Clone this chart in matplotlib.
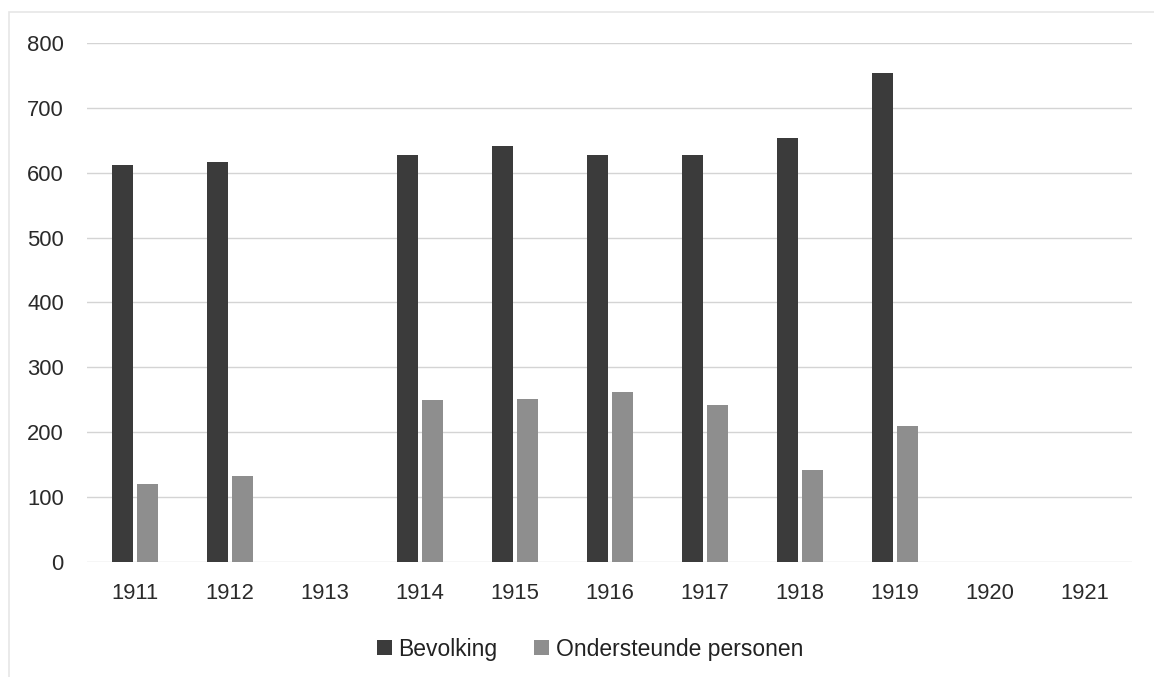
import numpy as np
import matplotlib.pyplot as plt
from matplotlib.patches import Rectangle

plt.rcParams['font.family'] = ['Liberation Sans', 'DejaVu Sans']

years = ["1911", "1912", "1913", "1914", "1915", "1916", "1917", "1918", "1919", "1920", "1921"]
bevolking = [612, 616, 0, 627, 641, 627, 627, 653, 753, 0, 0]
ondersteunde = [120, 132, 0, 250, 251, 262, 242, 142, 210, 0, 0]

dark = "#3b3b3b"
grey = "#8e8e8e"

fig = plt.figure(figsize=(11.54, 6.77), dpi=100)
ax = fig.add_axes([0.0758, 0.170, 0.9055, 0.7665])

x = np.arange(len(years))
w = 0.22
ax.bar(x - 0.135, bevolking, width=w, color=dark, label="Bevolking", zorder=3)
ax.bar(x + 0.135, ondersteunde, width=w, color=grey, label="Ondersteunde personen", zorder=3)

ax.set_xlim(-0.5, len(years) - 0.5)
ax.set_ylim(0, 800)
ax.set_yticks(range(0, 801, 100))
ax.set_xticks(x)
ax.set_xticklabels(years)
ax.tick_params(length=0, labelsize=15.8, colors="#2a2a2a")
ax.tick_params(axis="x", pad=15)
ax.tick_params(axis="y", pad=17)
ax.grid(axis="y", color="#d4d4d4", linewidth=1, zorder=0)
for s in ax.spines.values():
    s.set_visible(False)

leg = ax.legend(loc="center", bbox_to_anchor=(0.481, -0.168), ncol=2, frameon=False,
                fontsize=16.5, handlelength=0.65, handleheight=0.65, handletextpad=0.3,
                columnspacing=1.6)
for t in leg.get_texts():
    t.set_color("#222222")

# faint outer frame (only left and top show in the scan)
fig.patches.append(Rectangle((0.008, -0.05), 1.1, 1.032, transform=fig.transFigure,
                             fill=False, edgecolor="#e6e6e6", linewidth=1.2))

fig.savefig("out.png", dpi=100)
